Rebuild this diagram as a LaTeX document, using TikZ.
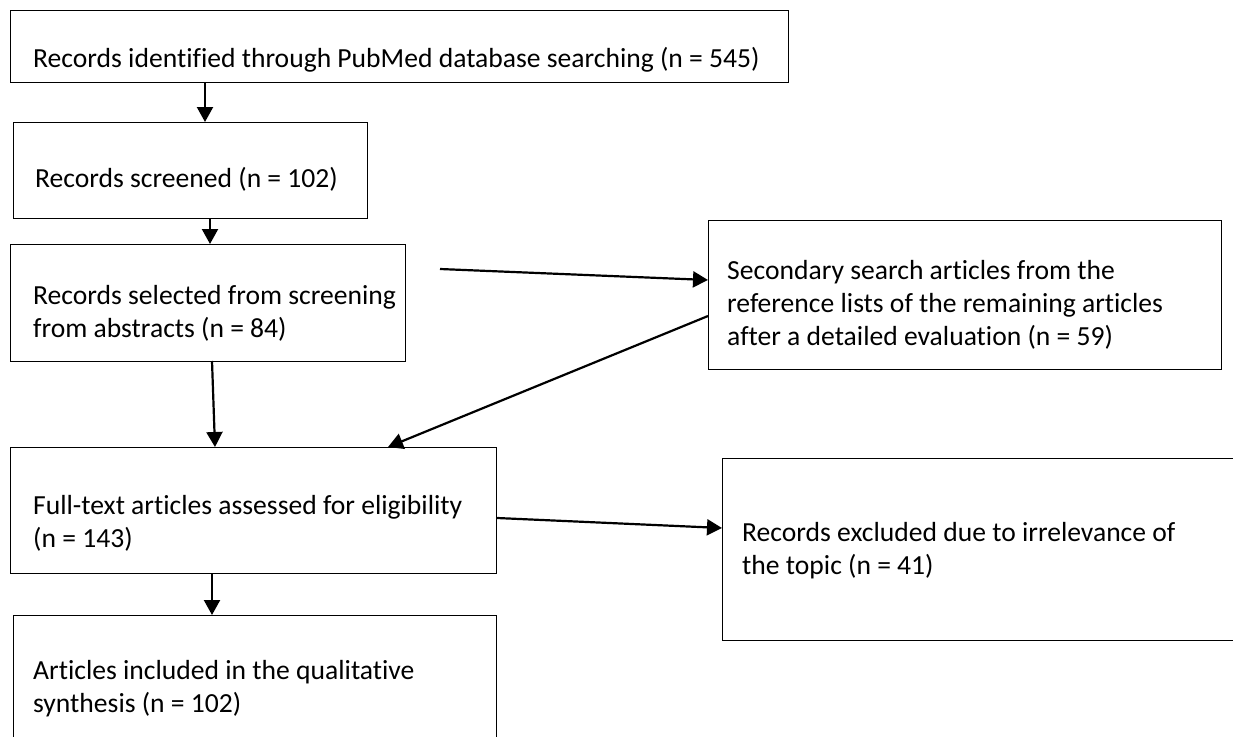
\documentclass[tikz,border=0pt]{standalone}
\usepackage{fontspec}
\setmainfont{Carlito}[Ligatures=CommonOff]
\usetikzlibrary{arrows.meta}
\begin{document}
\begin{tikzpicture}[x=1pt,y=-1pt,
  box/.style={draw=black,line width=1.2pt,rectangle,inner sep=0pt,anchor=north west},
  txt/.style={anchor=west,align=left,inner sep=0pt,font=\fontsize{27.6}{33}\selectfont},
  arr/.style={line width=2.2pt,-{Triangle[length=15pt,width=16pt]}}]
\useasboundingbox (0,0) rectangle (1233,736);
\clip (0,0) rectangle (1233,736);
\node[box,minimum width=778pt,minimum height=72pt] (b1) at (10,10) {};
\node[txt] (t1) at (33,60) {Records identified through PubMed database searching (n = 545)};
\node[box,minimum width=354pt,minimum height=96pt] (b2) at (13,122) {};
\node[txt] (t2) at (35,179) {Records screened (n = 102)};
\node[box,minimum width=395pt,minimum height=117pt] (b3) at (10,244) {};
\node[txt] (t3) at (33,313) {Records selected from screening\\from abstracts (n = 84)};
\node[box,minimum width=513pt,minimum height=149pt] (b4) at (708,220) {};
\node[txt] (t4) at (727,305) {Secondary search articles from the\\reference lists of the remaining articles\\after a detailed evaluation (n = 59)};
\node[box,minimum width=486pt,minimum height=126pt] (b5) at (10,447) {};
\node[txt] (t5) at (33,523) {Full-text articles assessed for eligibility\\(n = 143)};
\node[box,minimum width=530pt,minimum height=182pt] (b6) at (722,458) {};
\node[txt] (t6) at (742,551) {Records excluded due to irrelevance of\\the topic (n = 41)};
\node[box,minimum width=483pt,minimum height=150pt] (b7) at (13,615) {};
\node[txt] (t7) at (33,689) {Articles included in the qualitative\\synthesis (n = 102)};
\coordinate (s3) at (440,269);
\draw[arr] (b1.south -| 205,0) -- (b2.north -| 205,0);
\draw[arr] (b2.south -| 210,0) -- (b3.north -| 210,0);
\draw[arr] (212,361) -- (b5.north -| 215,0);
\draw[arr] (s3) -- (b4.west |- 0,280);
\draw[arr] (b4.west |- 0,316) -- (388,447);
\draw[arr] (b5.east |- 0,518) -- (b6.west |- 0,528);
\draw[arr] (b5.south -| 212,0) -- (b7.north -| 212,0);
\end{tikzpicture}
\end{document}
